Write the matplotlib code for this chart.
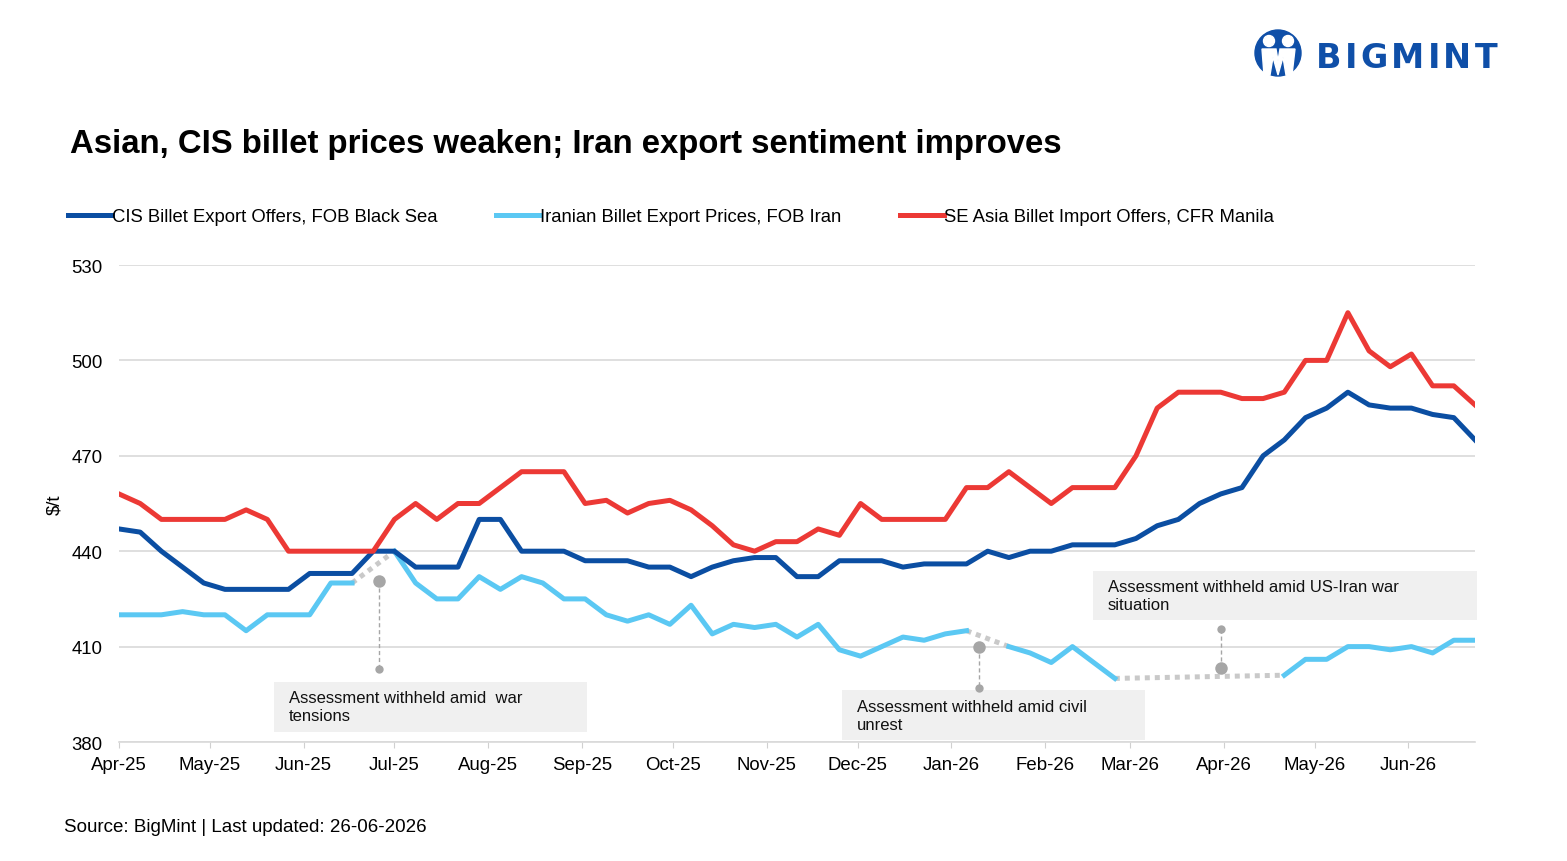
import numpy as np
import pandas as pd
import matplotlib
matplotlib.use("Agg")
import matplotlib.pyplot as plt
import matplotlib.dates as mdates
from matplotlib.patches import Rectangle, Circle, Polygon

plt.rcParams['font.family'] = ['Liberation Sans', 'DejaVu Sans']

# weekly assessments, Apr-25 .. Jun-26
dates = pd.date_range('2025-04-01', periods=65, freq='7D')

cis = [447, 446, 440, 435, 430, 428, 428, 428, 428, 433, 433, 433, 440, 440, 435, 435,
       435, 450, 450, 440, 440, 440, 437, 437, 437, 435, 435, 432, 435, 437, 438, 438,
       432, 432, 437, 437, 437, 435, 436, 436, 436, 440, 438, 440, 440, 442, 442, 442,
       444, 448, 450, 455, 458, 460, 470, 475, 482, 485, 490, 486, 485, 485, 483, 482, 475]

iran = [420, 420, 420, 421, 420, 420, 415, 420, 420, 420, 430, 430, np.nan, 440, 430, 425,
        425, 432, 428, 432, 430, 425, 425, 420, 418, 420, 417, 423, 414, 417, 416, 417,
        413, 417, 409, 407, 410, 413, 412, 414, 415, np.nan, 410, 408, 405, 410, 405, 400,
        np.nan, np.nan, np.nan, np.nan, np.nan, np.nan, np.nan, 401, 406, 406, 410, 410, 409, 410,
        408, 412, 412]

sea = [458, 455, 450, 450, 450, 450, 453, 450, 440, 440, 440, 440, 440, 450, 455, 450,
       455, 455, 460, 465, 465, 465, 455, 456, 452, 455, 456, 453, 448, 442, 440, 443,
       443, 447, 445, 455, 450, 450, 450, 450, 460, 460, 465, 460, 455, 460, 460, 460,
       470, 485, 490, 490, 490, 488, 488, 490, 500, 500, 515, 503, 498, 502, 492, 492, 486]

labels = ['CIS Billet Export Offers, FOB Black Sea',
          'Iranian Billet Export Prices, FOB Iran',
          'SE Asia Billet Import Offers, CFR Manila']
colors = ['#0b4ea2', '#5bc8f3', '#ec3935']

note_dates = pd.to_datetime(['2025-06-26', '2026-01-10', '2026-03-31'])
note_vals = [430.5, 410, 403.3]
note_dot_vals = [402.8, 397, 415.5]
note_texts = ['Assessment withheld amid  war\ntensions',
              'Assessment withheld amid civil\nunrest',
              'Assessment withheld amid US-Iran war\nsituation']
# note boxes in axes fractions: x0, y0, x1, y1
note_boxes = [(0.1143, 0.021, 0.3451, 0.1258),
              (0.5332, 0.004, 0.7566, 0.109),
              (0.7183, 0.2558, 1.0015, 0.3585)]

yticks = [380, 410, 440, 470, 500, 530]

fig = plt.figure(figsize=(15.67, 8.62), dpi=100)
ax = fig.add_axes([119 / 1567, 119 / 862, 1356 / 1567, 477 / 862])

ax.plot(dates, cis, color=colors[0], lw=3.6, label=labels[0], zorder=4)
ax.plot(dates, iran, color=colors[1], lw=3.6, label=labels[1], zorder=3)
ax.plot(dates, sea, color=colors[2], lw=3.6, label=labels[2], zorder=4)

# dotted connectors over the gaps in the Iran series
iran_arr = np.array(iran, dtype=float)
valid = np.where(~np.isnan(iran_arr))[0]
for a, b in zip(valid[:-1], valid[1:]):
    if b - a > 1:
        ax.plot([dates[a], dates[b]], [iran_arr[a], iran_arr[b]], color='#c9c9c9',
                lw=3.6, ls=(0, (1, 1)), zorder=2)

# note markers and leader lines
for d, v, dv in zip(note_dates, note_vals, note_dot_vals):
    ax.plot([d, d], [v, dv], color='#a6a6a6', lw=1, ls=(0, (3, 2)), zorder=5)
    ax.plot(d, v, 'o', color='#a6a6a6', ms=9, mec='none', zorder=6)
    ax.plot(d, dv, 'o', color='#a6a6a6', ms=6, mec='none', zorder=6)

for (x0, y0, x1, y1), t in zip(note_boxes, note_texts):
    ax.add_patch(Rectangle((x0, y0), x1 - x0, y1 - y0, transform=ax.transAxes,
                           facecolor='#f0f0f0', edgecolor='none', zorder=1, clip_on=False))
    ax.text(x0 + 0.011, (y0 + y1) / 2, t, transform=ax.transAxes, fontsize=12,
            va='center', ha='left', color='#111111', linespacing=1.25, zorder=7)

ax.set_xlim(dates[0], dates[-1])
ax.set_ylim(380, 530)
ax.set_yticks(yticks)
ax.grid(axis='y', color='#d9d9d9', lw=1.2)
ax.set_axisbelow(True)

ax.xaxis.set_major_locator(mdates.MonthLocator())
ax.xaxis.set_major_formatter(mdates.DateFormatter('%b-%y'))
ax.tick_params(axis='x', length=4, color='#d0d0d0', labelsize=13.4, pad=6)
ax.tick_params(axis='y', length=0, labelsize=13.4, pad=12)

for s in ['top', 'right', 'left']:
    ax.spines[s].set_visible(False)
ax.spines['bottom'].set_color('#d9d9d9')
ax.spines['bottom'].set_linewidth(1.2)

ax.set_ylabel('$/t', fontsize=13.4)
ax.yaxis.set_label_coords(-0.041, 0.5)

ax.legend(loc='center left', bbox_to_anchor=(-0.0376, 1.101), ncol=3, frameon=False,
          fontsize=13.3, handlelength=2.4, handletextpad=0.0, columnspacing=3.15,
          borderpad=0, borderaxespad=0)

fig.text(70 / 1567, 1 - 145 / 862, 'Asian, CIS billet prices weaken; Iran export sentiment improves',
         fontsize=23.7, fontweight='bold', va='center', ha='left')
fig.text(64 / 1567, 1 - 828 / 862, 'Source: BigMint | Last updated: 26-06-2026',
         fontsize=13.5, va='center', ha='left')

# logo
logo_blue = '#0f4fa8'
lax = fig.add_axes([0, 0, 1, 1], zorder=10)
lax.set_xlim(0, 1567)
lax.set_ylim(862, 0)
lax.axis('off')
lax.set_aspect('equal')
lax.add_patch(Circle((1278, 54), 23, color=logo_blue))
lax.add_patch(Circle((1269, 42), 5.5, color='white'))
lax.add_patch(Circle((1288, 42), 5.5, color='white'))
lax.add_patch(Polygon([(1262, 50), (1276, 50), (1278, 62), (1280, 50), (1295, 50),
                       (1292, 76), (1286, 76), (1283, 58), (1278, 76), (1273, 58),
                       (1270, 76), (1264, 76)], closed=True, color='white'))
renderer = fig.canvas.get_renderer()
x = 1316
for ch in 'BIGMINT':
    t = lax.text(x, 58, ch, fontsize=24, fontweight='bold', color=logo_blue,
                 family='DejaVu Sans', va='center', ha='left')
    bb = t.get_window_extent(renderer)
    x += bb.width + 3.2

fig.savefig('out.png', dpi=100)
